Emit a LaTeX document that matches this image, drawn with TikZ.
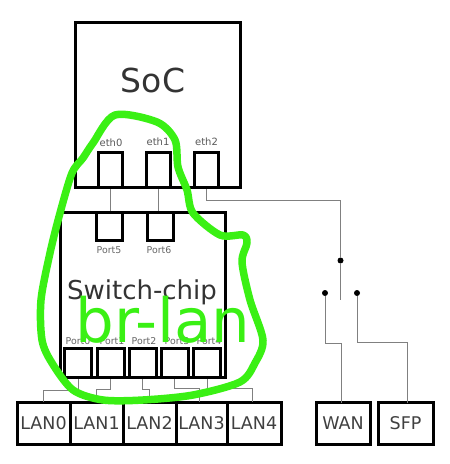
\documentclass[tikz,border=0pt]{standalone}
\usepackage{fontspec}
\setmainfont{DejaVu Sans}
\tikzset{
  x=1pt,y=-1pt,
  box/.style={draw=black,line width=3pt,fill=none,inner sep=0pt,outer sep=0pt,text=black!75},
  lanbox/.style={box,minimum height=42pt,font=\fontsize{17.5}{18}\selectfont},
  portbox/.style={box,minimum width=27pt,minimum height=29pt},
  uplink/.style={box,minimum width=24pt,minimum height=35pt},
  downlink/.style={box,minimum width=26pt,minimum height=28pt},
  wire/.style={draw=black!50,line width=1pt},
  contact/.style={circle,fill=black,inner sep=0pt,outer sep=0pt,minimum size=6pt},
  small/.style={inner sep=0pt,text=black!65,font=\fontsize{10}{11}\selectfont},
  tiny/.style={inner sep=0pt,text=black!60,font=\fontsize{9.4}{10}\selectfont},
}
\definecolor{brgreen}{RGB}{58,240,20}
\begin{document}
\begin{tikzpicture}
\useasboundingbox (0,0) rectangle (450,464);
\node[uplink] (eth0) at (110.5,169.5) {};
\node[uplink] (eth1) at (158.5,169.5) {};
\node[uplink] (eth2) at (206,169.5) {};
\node[downlink] (port5) at (109,226) {};
\node[downlink] (port6) at (160,226) {};
\node[portbox] (port0) at (78,362.5) {};
\node[portbox] (port1) at (110.5,362.5) {};
\node[portbox] (port2) at (142.5,362.5) {};
\node[portbox] (port3) at (174.5,362.5) {};
\node[portbox] (port4) at (207,362.5) {};
\node[lanbox,minimum width=53pt] (lan0) at (43.5,423) {LAN0};
\node[lanbox,minimum width=53pt] (lan1) at (96.5,423) {LAN1};
\node[lanbox,minimum width=53pt] (lan2) at (149.5,423) {LAN2};
\node[lanbox,minimum width=51pt] (lan3) at (201.5,423) {LAN3};
\node[lanbox,minimum width=54pt] (lan4) at (254,423) {LAN4};
\node[lanbox,minimum width=54pt] (wan) at (343,423.5) {WAN};
\node[lanbox,minimum width=55pt] (sfp) at (405.5,423.5) {SFP};
\node[contact] (com) at (340.5,260.5) {};
\node[contact] (cwan) at (325,293) {};
\node[contact] (csfp) at (357,293) {};
\coordinate (throw) at (340.5,300);
\coordinate (turn) at (340.5,200);
\draw[wire] (eth0.south) -- (eth0.south |- port5.north);
\draw[wire] (eth1.south) -- (eth1.south |- port6.north);
\draw[wire] (eth2.south) |- (turn) -- (com) -- (throw);
\draw[wire] (port0.south) |- (lan0.north |- 0,390) -- (lan0.north);
\draw[wire] (port1.south) |- (lan1.north |- 0,389) -- (lan1.north);
\draw[wire] (port2.south) |- (lan2.north |- 0,389) -- (lan2.north);
\draw[wire] (port3.south) |- ([xshift=-2pt]lan3.north |- 0,388) -- ([xshift=-2pt]lan3.north);
\draw[wire] (port4.south) |- ([xshift=-2pt]lan4.north |- 0,388) -- ([xshift=-2pt]lan4.north);
\draw[wire] (cwan) |- ([xshift=-2pt]wan.north |- 0,343) -- ([xshift=-2pt]wan.north);
\draw[wire] (csfp) |- ([xshift=1.5pt]sfp.north |- 0,342) -- ([xshift=1.5pt]sfp.north);
\node[box,minimum width=165pt,minimum height=165pt] (soc) at (157.5,104.5) {};
\node[box,minimum width=165pt,minimum height=165pt] (switch) at (142.5,295) {};
\node[inner sep=0pt,text=black!80,font=\fontsize{33}{34}\selectfont] (soclabel) at (153,80) {SoC};
\node[inner sep=0pt,text=black!80,font=\fontsize{26}{27}\selectfont] (swlabel) at (142,292) {Switch-chip};
\node[small] (teth0) at (111,143) {eth0};
\node[small] (teth1) at (158,142) {eth1};
\node[small] (teth2) at (206.5,142) {eth2};
\node[tiny] (tp5) at (109,250) {Port5};
\node[tiny] (tp6) at (159,250) {Port6};
\node[tiny] (tp0) at (78,341) {Port0};
\node[tiny] (tp1) at (112,341) {Port1};
\node[tiny] (tp2) at (144,341) {Port2};
\node[tiny] (tp3) at (177,341) {Port3};
\node[tiny] (tp4) at (209,341) {Port4};
\draw[draw=brgreen,line width=7.5pt,line join=round] plot[smooth cycle,tension=0.5] coordinates {
 (115,115) (157,122) (175,140) (178,167) (187,190) (193,213) (220,235) (243,235)
 (247,243) (242,262) (250,300) (263,340) (255,363) (240,382) (193,395) (143,400) (103,400)
 (73,390) (52,363) (42,340) (41,300) (50,253) (60,213) (72,173) (83,158) (93,143)};
\node[inner sep=0pt,text=brgreen,font=\fontsize{61}{62}\selectfont] (brlan) at (163,320) {br-lan};
\end{tikzpicture}
\end{document}
